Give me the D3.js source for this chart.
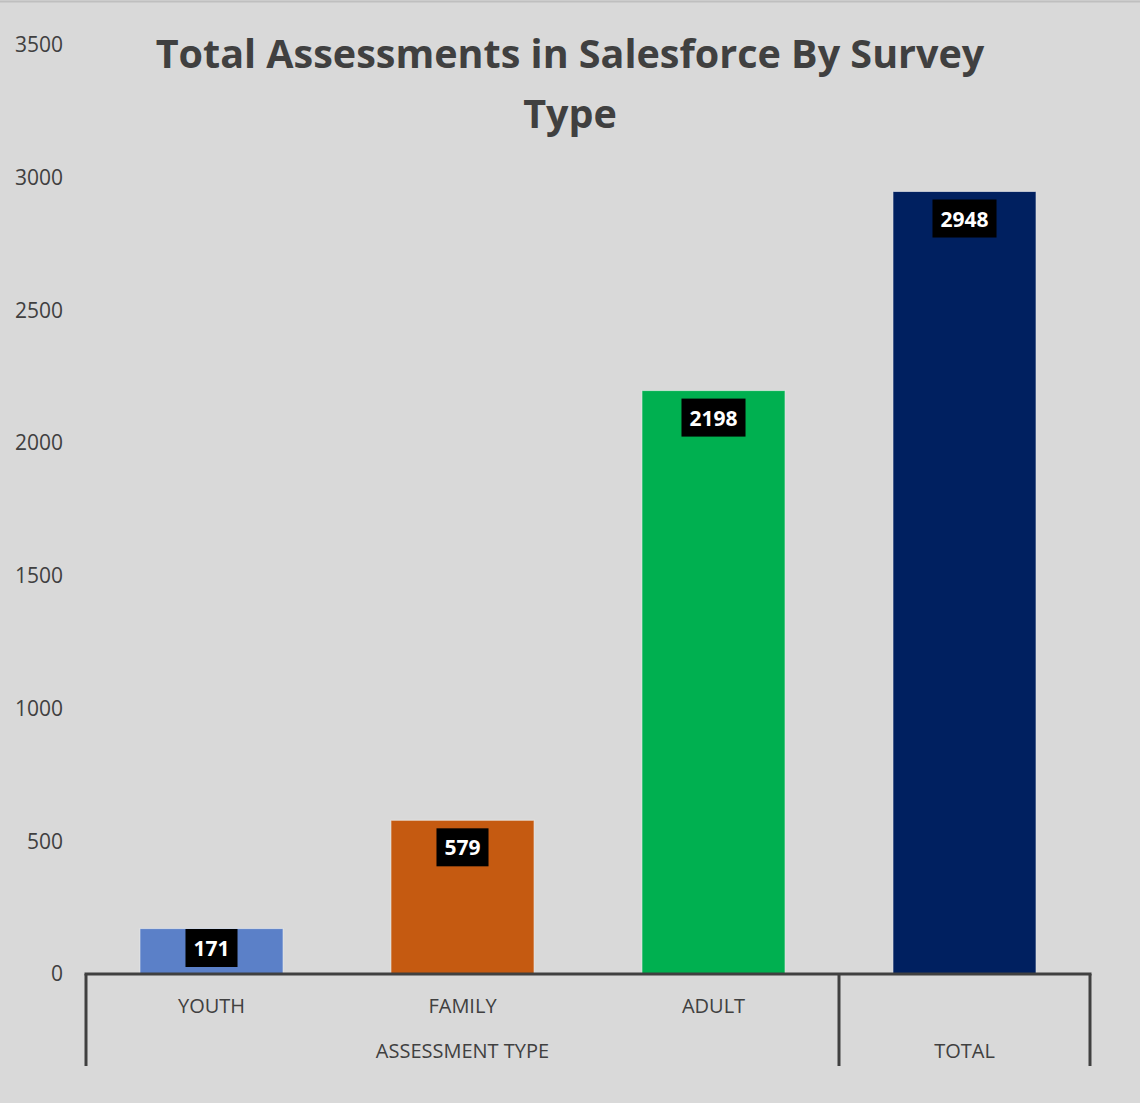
<!DOCTYPE html>
<html>
<head>
<meta charset="utf-8">
<script src="https://cdn.jsdelivr.net/npm/d3@7"></script>
<style>
  body { margin: 0; background: #d9d9d9; }
  svg text { font-family: "Open Sans", "Noto Sans", sans-serif; }
</style>
</head>
<body>
<div id="chart"></div>
<script>
// chart data
let categories = ["YOUTH", "FAMILY", "ADULT", "TOTAL"];
let values = [171, 579, 2198, 2948];
let barColors = ["#5b80c8", "#c55a11", "#00b050", "#002060"];
let groups = [
    { label: "ASSESSMENT TYPE", from: 0, to: 2 },
    { label: "TOTAL", from: 3, to: 3 }
];
let yTicks = [0, 500, 1000, 1500, 2000, 2500, 3000, 3500];
let titleLines = ["Total Assessments in Salesforce By Survey", "Type"];

let width = 1140, height = 1103;
let plot = { left: 86, right: 1090, top: 45, bottom: 974 }; //px

let svg = d3.select("#chart")
    .append("svg")
    .attr("width", width)
    .attr("height", height);

svg.append("rect")
    .attr("width", "100%")
    .attr("height", "100%")
    .attr("fill", "#d9d9d9");

// thin border on top
svg.append("line")
    .attr("x1", 0).attr("x2", width)
    .attr("y1", 1.5).attr("y2", 1.5)
    .attr("stroke", "#bfbfbf")
    .attr("stroke-width", 2);

let x = d3.scaleBand()
    .domain(categories)
    .range([plot.left, plot.right])
    .paddingInner(0.43)
    .paddingOuter(0.215);

// band without padding, used for the grouped axis
let slot = d3.scaleBand()
    .domain(categories)
    .range([plot.left, plot.right]);

let y = d3.scaleLinear()
    .domain([0, 3500])
    .range([plot.bottom, plot.top]);

/*---------------
 // title
 ----------------*/
svg.append("text")
    .attr("x", 570)
    .attr("y", 68)
    .attr("text-anchor", "middle")
    .attr("font-size", "39.5px")
    .attr("font-weight", "bold")
    .attr("fill", "#404040")
    .selectAll("tspan")
    .data(titleLines)
    .join("tspan")
    .attr("x", 570)
    .attr("dy", (d, i) => i == 0 ? 0 : 60)
    .text(d => d);

/*---------------
 // y axis labels (no axis line)
 ----------------*/
let yAxis = d3.axisLeft(y)
    .tickValues(yTicks)
    .tickFormat(d3.format("d"))
    .tickSize(0)
    .tickPadding(0);

let yg = svg.append("g")
    .attr("transform", "translate(63,0)")
    .call(yAxis);
yg.select(".domain").remove();
yg.selectAll("text")
    .attr("font-size", "21px")
    .attr("fill", "#404040")
    .attr("font-family", "'Open Sans', sans-serif");

/*---------------
 // bars
 ----------------*/
svg.selectAll(".bar")
    .data(values)
    .join("rect")
    .attr("class", "bar")
    .attr("x", (d, i) => x(categories[i]))
    .attr("y", d => y(d))
    .attr("width", x.bandwidth())
    .attr("height", d => y(0) - y(d))
    .attr("fill", (d, i) => barColors[i])
    .attr("stroke", "#f2f2f2")
    .attr("stroke-opacity", 0.6)
    .attr("stroke-width", 1);

// value labels in black boxes
let labels = svg.selectAll(".lbl")
    .data(values)
    .join("g")
    .attr("class", "lbl")
    .attr("transform", (d, i) => {
        let cx = x(categories[i]) + x.bandwidth() / 2;
        let top = Math.min(y(d) + 8, plot.bottom - 45);
        return "translate(" + cx + "," + top + ")";
    });

labels.append("text")
    .attr("text-anchor", "middle")
    .attr("y", 27)
    .attr("font-size", "21px")
    .attr("font-weight", "bold")
    .attr("fill", "white")
    .text(d => d);

labels.each(function () {
    let g = d3.select(this);
    let bb = g.select("text").node().getBBox();
    g.insert("rect", "text")
        .attr("x", bb.x - 8)
        .attr("y", 0)
        .attr("width", bb.width + 16)
        .attr("height", 38)
        .attr("fill", "black");
});

/*---------------
 // grouped x axis
 ----------------*/
let axisColor = "#404040";
svg.append("line")
    .attr("x1", plot.left - 1.5).attr("x2", plot.right + 1.5)
    .attr("y1", plot.bottom).attr("y2", plot.bottom)
    .attr("stroke", axisColor)
    .attr("stroke-width", 3);

let dividers = [plot.left];
groups.forEach(g => dividers.push(slot(categories[g.to]) + slot.bandwidth()));
svg.selectAll(".divider")
    .data(dividers)
    .join("line")
    .attr("class", "divider")
    .attr("x1", d => d).attr("x2", d => d)
    .attr("y1", plot.bottom).attr("y2", 1066)
    .attr("stroke", axisColor)
    .attr("stroke-width", 3);

// category labels (TOTAL only shown at group level)
svg.selectAll(".cat")
    .data(categories.slice(0, 3))
    .join("text")
    .attr("class", "cat")
    .attr("x", d => slot(d) + slot.bandwidth() / 2)
    .attr("y", 1013)
    .attr("text-anchor", "middle")
    .attr("font-size", "20px")
    .attr("fill", "#404040")
    .text(d => d);

svg.selectAll(".grp")
    .data(groups)
    .join("text")
    .attr("class", "grp")
    .attr("x", g => (slot(categories[g.from]) + slot(categories[g.to]) + slot.bandwidth()) / 2)
    .attr("y", 1058)
    .attr("text-anchor", "middle")
    .attr("font-size", "20px")
    .attr("fill", "#404040")
    .text(g => g.label);
</script>
</body>
</html>
